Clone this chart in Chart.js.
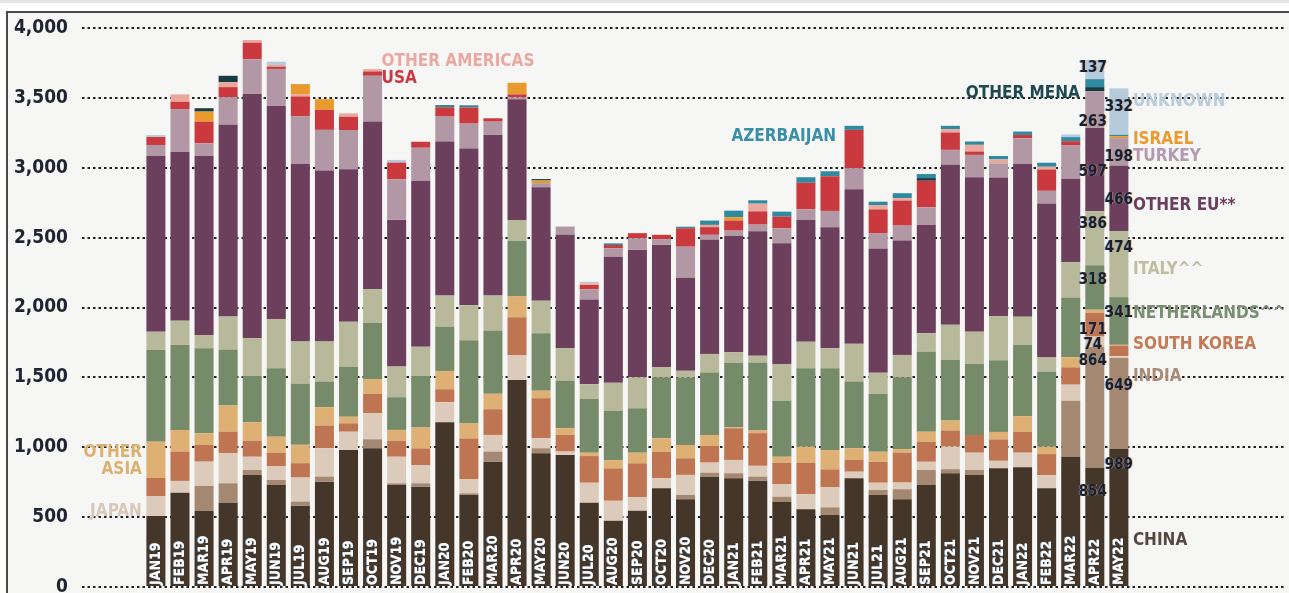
<!DOCTYPE html>
<html><head><meta charset="utf-8">
<script src="https://cdn.jsdelivr.net/npm/chart.js@4.4.1/dist/chart.umd.min.js"></script>
<style>
html,body{margin:0;padding:0;background:#fff;width:1289px;height:593px;overflow:hidden}
#topband{position:absolute;left:0;top:0;width:1289px;height:3px;background:#e4e4e4}
#frame{position:absolute;left:6px;top:11px;width:1283px;height:582px;border-left:2px solid #4a4a4a;border-top:2px solid #4a4a4a;background:#f6f6f4;box-sizing:border-box}
#wrap{position:absolute;left:0;top:0;width:1289px;height:593px}
</style></head><body>
<div id="topband"></div><div id="frame"></div>
<div id="wrap"><canvas id="c" width="1289" height="593"></canvas></div>
<script>
const months = ['JAN19','FEB19','MAR19','APR19','MAY19','JUN19','JUL19','AUG19','SEP19','OCT19','NOV19','DEC19',
 'JAN20','FEB20','MAR20','APR20','MAY20','JUN20','JUL20','AUG20','SEP20','OCT20','NOV20','DEC20',
 'JAN21','FEB21','MAR21','APR21','MAY21','JUN21','JUL21','AUG21','SEP21','OCT21','NOV21','DEC21',
 'JAN22','FEB22','MAR22','APR22','MAY22'];
const yTicks = [0,500,1000,1500,2000,2500,3000,3500,4000];

const china       = [508,675,546,603,801,730,580,754,980,993,730,718,1179,658,897,1481,957,945,603,474,546,706,628,789,778,761,610,556,515,778,658,628,730,814,801,849,857,706,932,854,989];
const india       = [0,0,177,139,36,36,31,36,0,64,12,24,0,12,72,0,36,0,0,0,0,0,31,29,36,29,36,0,55,0,36,72,107,29,36,0,0,0,401,864,649];
const japan       = [143,84,174,215,95,100,172,203,131,186,190,131,143,100,119,179,72,24,143,143,96,72,143,72,95,77,91,109,143,47,52,47,59,162,124,54,104,95,115,74,14];
const southKorea  = [129,210,119,155,115,95,103,162,60,138,115,119,93,293,184,270,286,119,191,232,243,190,119,119,227,234,152,224,129,84,150,215,143,115,127,153,150,150,124,171,74];
const otherAsia   = [260,155,84,186,132,115,131,132,47,107,77,150,131,107,110,152,54,48,24,59,76,96,95,79,7,19,43,115,138,84,72,24,72,72,0,54,112,52,72,21,7];
const netherlands = [656,608,608,399,331,489,437,183,358,401,234,367,317,596,453,396,411,341,384,353,318,437,484,446,460,487,401,561,585,477,413,515,572,434,508,513,508,537,425,318,341];
const italy       = [131,174,95,238,270,353,303,286,322,243,219,210,222,250,250,148,233,232,107,200,222,72,47,134,77,48,263,190,143,270,152,160,132,250,231,315,203,103,255,386,474];
const otherEU     = [1257,1209,1281,1372,1748,1524,1272,1224,1091,1199,1050,1188,1102,1121,1150,864,812,811,606,902,911,875,666,816,834,890,864,871,866,1107,890,818,775,1145,1105,993,1093,1102,597,597,466];
const turkey      = [79,305,91,198,248,265,338,291,281,327,291,236,179,179,95,14,29,59,72,60,84,41,222,36,36,48,107,77,117,150,107,107,127,107,160,100,184,90,238,263,198];
const usa         = [57,52,155,72,119,16,143,143,95,31,119,43,67,115,24,21,0,0,31,24,36,31,132,55,72,95,83,190,248,274,172,179,190,124,24,0,24,153,31,0,0];
const otherAmericas=[0,53,0,36,19,12,17,0,24,17,0,0,0,0,0,0,0,0,12,0,0,0,0,16,0,55,0,0,0,0,31,17,0,24,48,29,0,19,0,0,0];
const israel      = [0,0,72,0,0,0,72,77,0,0,0,0,0,0,0,83,19,0,0,0,0,0,0,0,24,0,0,0,0,0,0,0,0,0,0,0,0,0,0,0,14];
const otherMena   = [0,0,24,45,0,0,0,0,0,0,0,0,0,0,0,0,10,0,0,0,0,0,0,0,0,0,0,0,0,0,0,0,19,0,0,0,0,0,0,29,0];
const azerbaijan  = [0,0,0,0,0,0,0,0,0,0,0,0,16,16,0,0,0,0,0,12,0,0,11,31,47,24,36,39,36,29,24,36,29,24,24,24,24,29,29,57,10];
const unknown     = [14,0,0,0,0,24,0,0,0,0,19,0,0,0,0,0,0,0,11,0,0,0,0,0,0,0,0,0,0,0,0,0,0,0,0,0,0,0,19,137,332];

const seriesNames = ['CHINA','INDIA','JAPAN','SOUTH KOREA','OTHER ASIA','NETHERLANDS^^','ITALY^^','OTHER EU**','TURKEY','USA','OTHER AMERICAS','ISRAEL','OTHER MENA','AZERBAIJAN','UNKNOWN'];
const seriesValues = [china,india,japan,southKorea,otherAsia,netherlands,italy,otherEU,turkey,usa,otherAmericas,israel,otherMena,azerbaijan,unknown];
const seriesColors = ['#45362a','#a58872','#dccbbb','#c07552','#deb073','#768b6a','#b8b89a','#6c3f5c','#b297a5','#c9393d','#e9a89e','#e99a2c','#173c44','#2f8aa0','#b5cbdc'];
const labelColors  = ['#55483e','#a88b76','#d9c7b8','#c47a55','#dcb06e','#7a8e72','#c0bea0','#6c3f60','#b39ab0','#c83a45','#eaa8a0','#e99a30','#1d4850','#3a8fa8','#b9ccdc'];

const FONT = '"DejaVu Sans Condensed","DejaVu Sans",sans-serif';

const datasets = seriesNames.map((n,k)=>({
  label:n,
  data: months.map((m,i)=>({x:i,y:seriesValues[k][i]})),
  backgroundColor: seriesColors[k],
  borderWidth:0,
  barPercentage:0.79,
  categoryPercentage:1.0
}));

// text annotations (layout only)
const idx = n => seriesNames.indexOf(n);
const seriesTags = [
  {name:'OTHER ASIA', text:'OTHER', m:0, side:'leftOf', at:959},
  {name:'OTHER ASIA', text:'ASIA', m:0, side:'leftOf', at:837},
  {name:'JAPAN', text:'JAPAN', m:0, side:'leftOf', at:537},
  {name:'OTHER AMERICAS', text:'OTHER AMERICAS', m:9, side:'rightOf', at:3757, dx:9},
  {name:'USA', text:'USA', m:9, side:'rightOf', at:3635, dx:9},
  {name:'AZERBAIJAN', text:'AZERBAIJAN', m:29, side:'leftOf', at:3220, dx:18},
  {name:'OTHER MENA', text:'OTHER MENA', m:39, side:'leftOf', at:3528, dx:15},
  {name:'UNKNOWN', text:'UNKNOWN', m:40, side:'rightOf', at:3471},
  {name:'ISRAEL', text:'ISRAEL', m:40, side:'rightOf', at:3199},
  {name:'TURKEY', text:'TURKEY', m:40, side:'rightOf', at:3077},
  {name:'OTHER EU**', text:'OTHER EU**', m:40, side:'rightOf', at:2726},
  {name:'ITALY^^', text:'ITALY^^', m:40, side:'rightOf', at:2268},
  {name:'NETHERLANDS^^', text:'NETHERLANDS^^', m:40, side:'rightOf', at:1954},
  {name:'SOUTH KOREA', text:'SOUTH KOREA', m:40, side:'rightOf', at:1732},
  {name:'INDIA', text:'INDIA', m:40, side:'rightOf', at:1503},
  {name:'CHINA', text:'CHINA', m:40, side:'rightOf', at:329}
];
const valueTags = [
  {name:'UNKNOWN', m:39, at:3714},{name:'TURKEY', m:39, at:3328},{name:'OTHER EU**', m:39, at:2970},
  {name:'ITALY^^', m:39, at:2598},{name:'NETHERLANDS^^', m:39, at:2197},{name:'SOUTH KOREA', m:39, at:1839},
  {name:'JAPAN', m:39, at:1732},{name:'INDIA', m:39, at:1617},{name:'CHINA', m:39, at:680},
  {name:'UNKNOWN', m:40, at:3435},{name:'TURKEY', m:40, at:3077},{name:'OTHER EU**', m:40, at:2769},
  {name:'ITALY^^', m:40, at:2426},{name:'NETHERLANDS^^', m:40, at:1961},{name:'INDIA', m:40, at:1438},
  {name:'CHINA', m:40, at:873}
];

const textPlugin = {
  id:'texts',
  afterDatasetsDraw(chart){
    const ctx = chart.ctx, xs = chart.scales.x, ys = chart.scales.y;
    ctx.save();
    // month labels inside bars
    ctx.font = 'bold 14px '+FONT;
    ctx.textAlign='left'; ctx.textBaseline='middle';
    months.forEach((m,i)=>{
      ctx.save();
      ctx.translate(xs.getPixelForValue(i)+0.5, ys.getPixelForValue(0)-2);
      ctx.rotate(-Math.PI/2);
      ctx.fillStyle='rgba(150,200,240,0.8)';
      ctx.fillText(m,0,-1);
      ctx.fillStyle='#ffffff';
      ctx.fillText(m,0,0);
      ctx.restore();
    });
    // series tags
    ctx.font = 'bold 17px '+FONT;
    seriesTags.forEach(t=>{
      const k = idx(t.name);
      const cx = xs.getPixelForValue(t.m);
      const y = ys.getPixelForValue(t.at);
      ctx.fillStyle = labelColors[k];
      if(t.side==='leftOf'){ ctx.textAlign='right'; ctx.fillText(t.text, cx-(t.dx||14), y); }
      else { ctx.textAlign='left'; ctx.fillText(t.text, cx+(t.dx||14), y); }
    });
    // value tags
    ctx.font = 'bold 15px '+FONT;
    ctx.textAlign='center';
    valueTags.forEach(t=>{
      const k = idx(t.name);
      const x = xs.getPixelForValue(t.m) + (t.m===39?-2:0);
      const y = ys.getPixelForValue(t.at);
      const txt = String(seriesValues[k][t.m]);
      ctx.fillStyle='rgba(230,160,80,0.55)'; ctx.fillText(txt,x+1,y);
      ctx.fillStyle='rgba(90,150,220,0.55)'; ctx.fillText(txt,x-1,y);
      ctx.fillStyle='#1c1e2c'; ctx.fillText(txt,x,y);
    });
    ctx.restore();
  }
};

new Chart(document.getElementById('c'),{
  type:'bar',
  data:{datasets},
  options:{
    responsive:false, animation:false,
    layout:{padding:{left:0,right:4,top:28,bottom:6}},
    plugins:{legend:{display:false},tooltip:{enabled:false}},
    scales:{
      x:{type:'linear',stacked:true,min:-3.07,max:46.9,offset:false,display:false,grid:{offset:false}},
      y:{stacked:true,min:0,max:4000,
         afterBuildTicks(s){ s.ticks = yTicks.map(v=>({value:v})); },
         afterFit(s){ s.width=82; s.paddingTop=0; s.paddingBottom=0; },
         ticks:{padding:14,color:'#1f2433',font:{family:FONT,size:19,weight:'bold'},callback:v=>v.toLocaleString('en-US')},
         grid:{color:'#222222',lineWidth:2,drawTicks:false,tickLength:0},
         border:{display:false,dash:[2.5,3]}
      }
    }
  },
  plugins:[textPlugin]
});
</script>
</body></html>
